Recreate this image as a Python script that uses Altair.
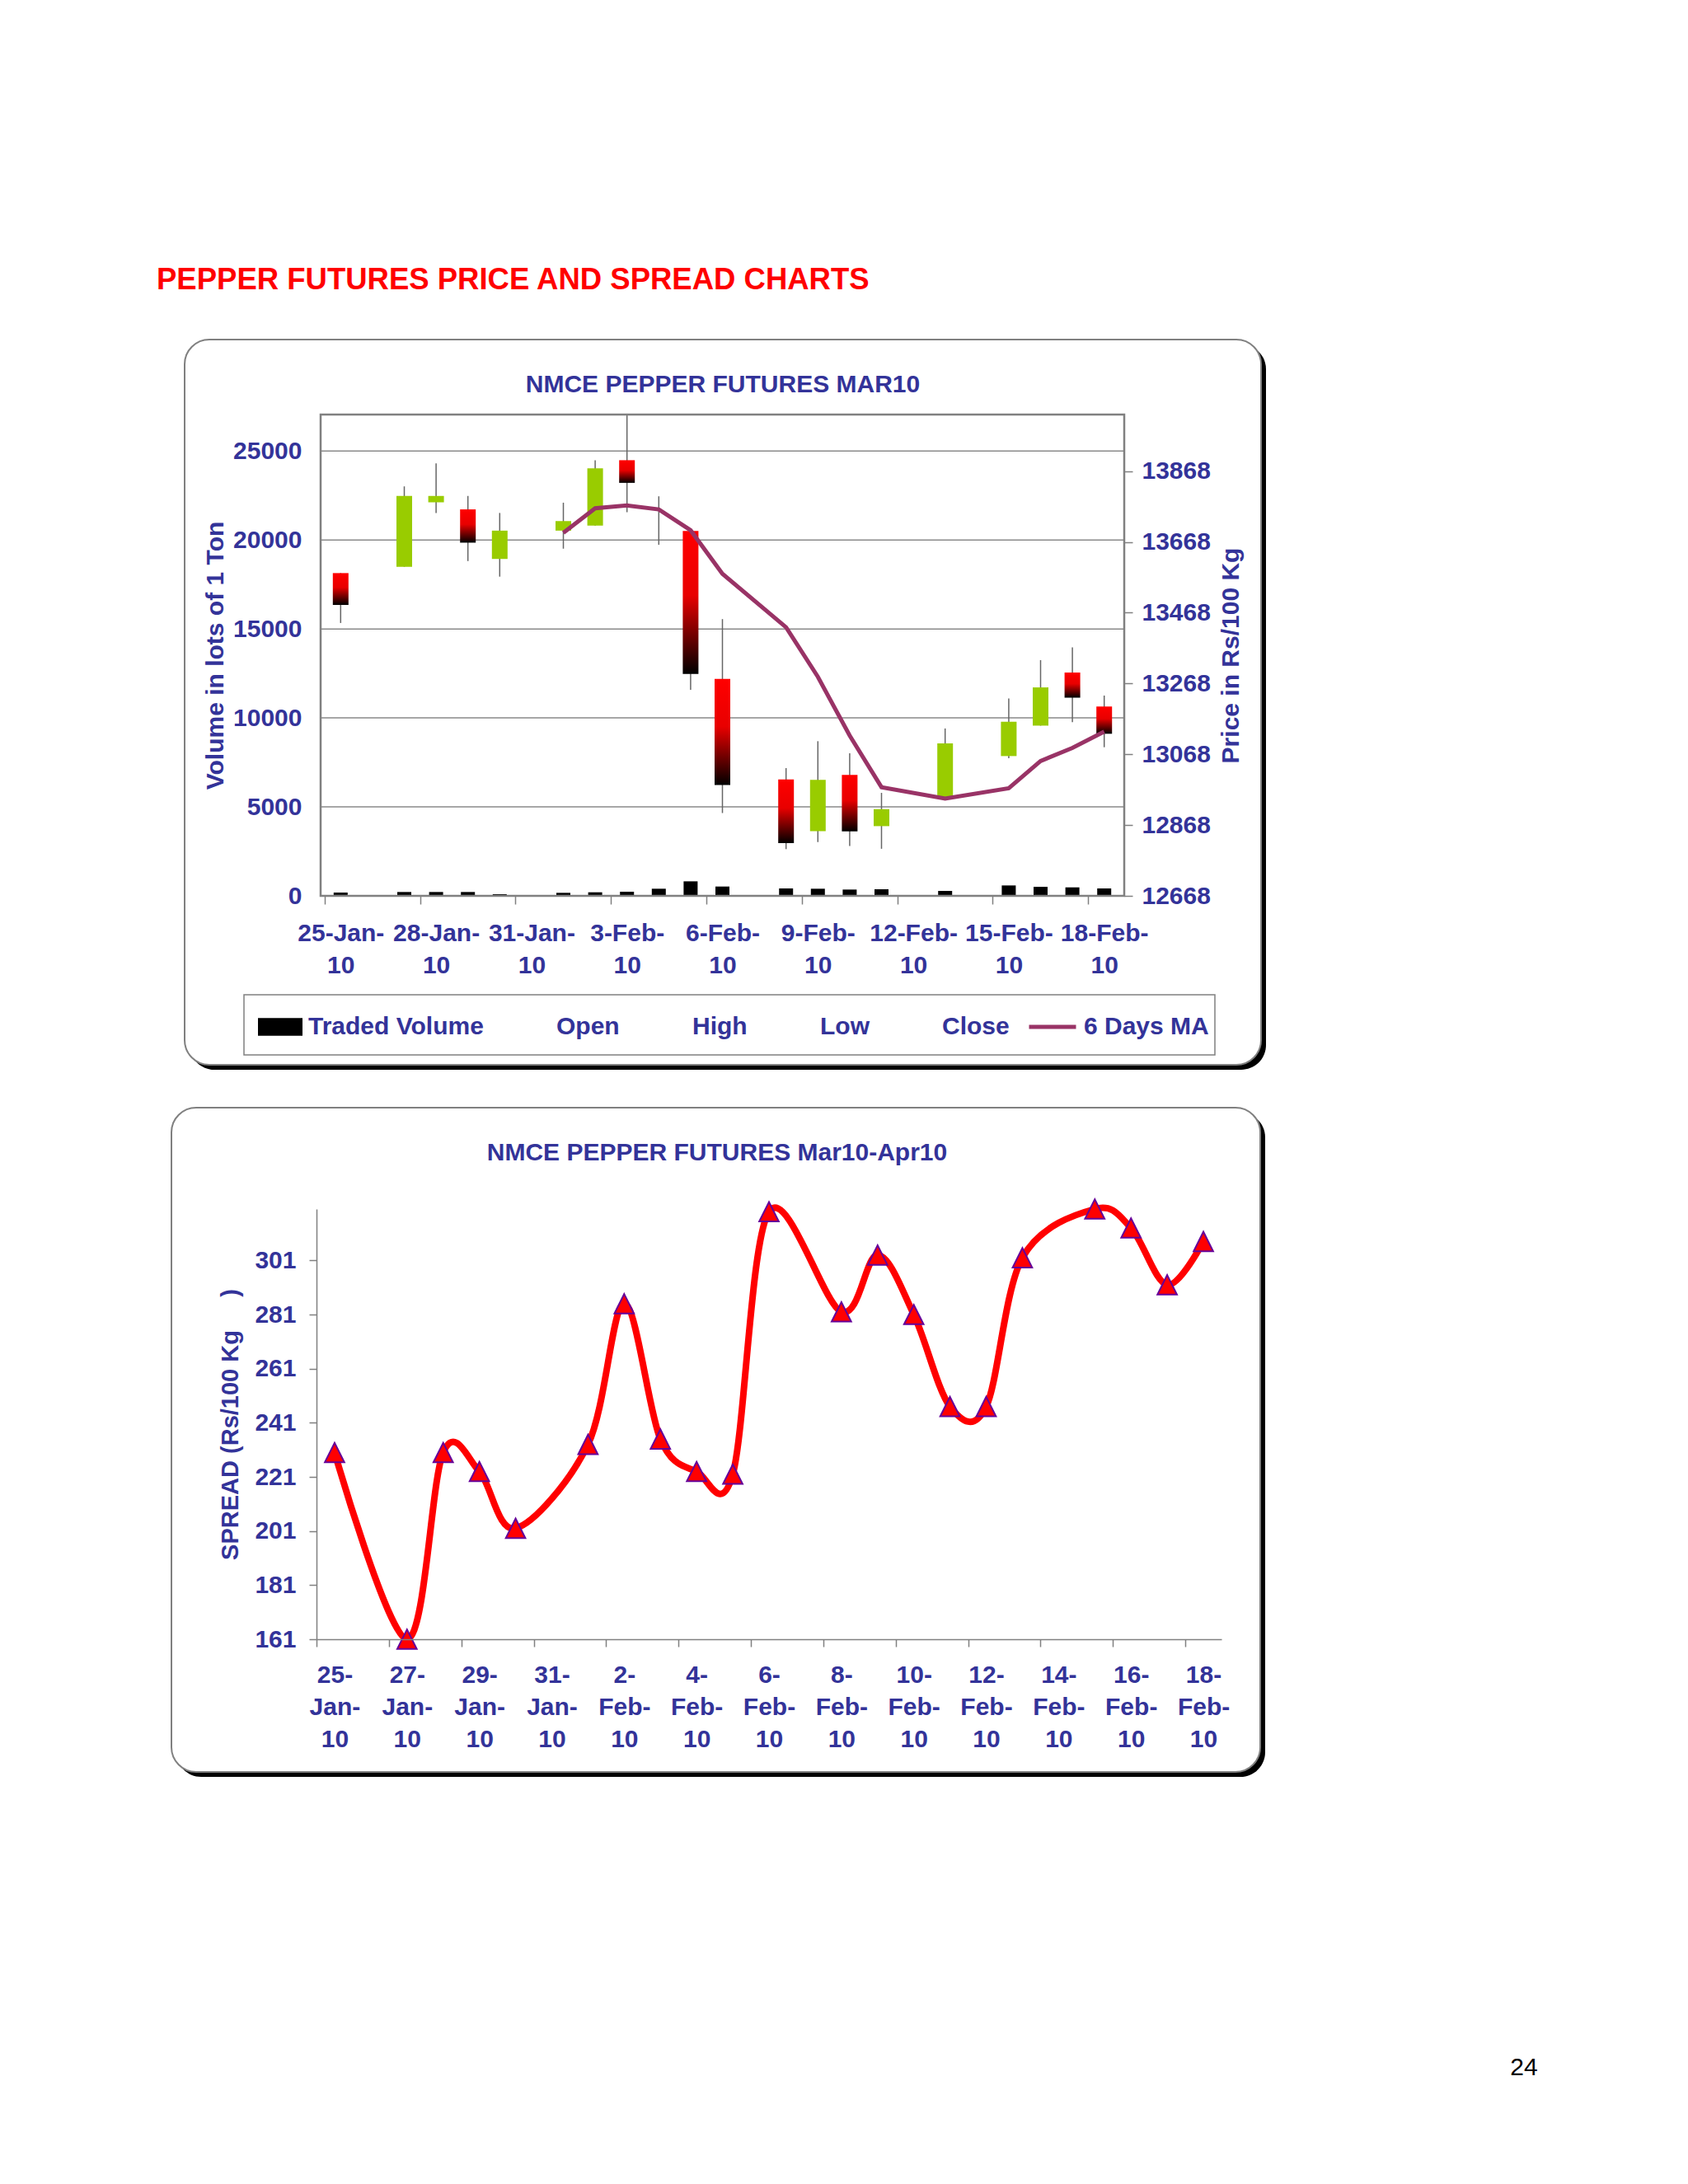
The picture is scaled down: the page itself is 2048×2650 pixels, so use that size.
import json
import re
import altair as alt
import pandas as pd

FONT = "Liberation Sans"
NAVY = "#333399"
GRAY = "#808080"

# ---------------- price chart data ----------------
trade_dates = ["25-Jan-10", "27-Jan-10", "28-Jan-10", "29-Jan-10", "30-Jan-10",
               "1-Feb-10", "2-Feb-10", "3-Feb-10", "4-Feb-10", "5-Feb-10",
               "6-Feb-10", "8-Feb-10", "9-Feb-10", "10-Feb-10", "11-Feb-10",
               "13-Feb-10", "15-Feb-10", "16-Feb-10", "17-Feb-10", "18-Feb-10"]
open_px = [13580, 13598, 13780, 13760, 13620, 13700, 13714, 13899, 13730, 13699,
           13281, 12997, 12851, 13010, 12865, 12945, 13063, 13149, 13299, 13203]
high_px = [13580, 13825, 13890, 13798, 13750, 13779, 13899, 14060, 13797, 13699,
           13450, 13029, 13105, 13071, 12959, 13141, 13226, 13334, 13370, 13234]
low_px = [13439, 13598, 13750, 13614, 13570, 13649, 13714, 13752, 13660, 13250,
          12902, 12800, 12820, 12809, 12801, 12945, 13057, 13149, 13159, 13088]
close_px = [13490, 13798, 13798, 13666, 13700, 13727, 13876, 13835, 13730, 13295,
            12981, 12817, 12996, 12850, 12913, 13099, 13160, 13257, 13228, 13126]
traded_volume = [185, 216, 216, 216, 93, 170, 200, 231, 400, 816,
                 524, 416, 400, 354, 370, 277, 585, 508, 477, 416]
ma_6days = [None, None, None, None, None, 13694, 13763, 13771, 13760, 13701,
            13578, 13427, 13287, 13121, 12975, 12943, 12972, 13049, 13086, 13132]

top_tick_labels = ["25-Jan-10", "28-Jan-10", "31-Jan-10", "3-Feb-10", "6-Feb-10",
                   "9-Feb-10", "12-Feb-10", "15-Feb-10", "18-Feb-10"]
volume_ticks = [0, 5000, 10000, 15000, 20000, 25000]
price_ticks = [12668, 12868, 13068, 13268, 13468, 13668, 13868]
volume_domain = [0, 27050]
price_domain = [12668, 14028]
legend_items = ["Traded Volume", "Open", "High", "Low", "Close"]
ma_label = "6 Days MA"

# ---------------- spread chart data ----------------
spread_dates = ["25-Jan-10", "27-Jan-10", "28-Jan-10", "29-Jan-10", "30-Jan-10",
                "1-Feb-10", "2-Feb-10", "3-Feb-10", "4-Feb-10", "5-Feb-10",
                "6-Feb-10", "8-Feb-10", "9-Feb-10", "10-Feb-10", "11-Feb-10",
                "12-Feb-10", "13-Feb-10", "15-Feb-10", "16-Feb-10", "17-Feb-10",
                "18-Feb-10"]
spread_values = [230, 161, 230, 223, 202, 233, 285, 235, 223, 222,
                 319, 282, 303, 281, 247, 247, 302, 320, 313, 292, 308]
spread_tick_labels = ["25-Jan-10", "27-Jan-10", "29-Jan-10", "31-Jan-10", "2-Feb-10",
                      "4-Feb-10", "6-Feb-10", "8-Feb-10", "10-Feb-10", "12-Feb-10",
                      "14-Feb-10", "16-Feb-10", "18-Feb-10"]
spread_ticks = [161, 181, 201, 221, 241, 261, 281, 301]
spread_domain = [161, 320]


def parse(d):
    return pd.to_datetime(d, format="%d-%b-%y")


START = parse(top_tick_labels[0])
N_DAYS = (parse(top_tick_labels[-1]) - START).days + 1


def day_index(d):
    return (parse(d) - START).days


def parts(s):
    return re.findall(r"[^-]+-?", s)


def label_expr(positions, lines):
    return f"{json.dumps(lines)}[indexof({json.dumps(positions)}, datum.value)]"


one = pd.DataFrame({"k": [0]})


def deco_rect(x, x2, y, y2, **mark):
    return alt.Chart(one).mark_rect(**mark).encode(
        x=alt.value(x), x2=alt.value(x2), y=alt.value(y), y2=alt.value(y2))


def deco_text(text, x, y, **mark):
    return alt.Chart(one).mark_text(**mark).encode(
        x=alt.value(x), y=alt.value(y), text=alt.value(text))


lab = dict(labelFont=FONT, labelFontSize=30, labelFontWeight="bold", labelColor=NAVY)
tit = dict(titleFont=FONT, titleFontSize=30, titleFontWeight="bold", titleColor=NAVY)

# ======================= TOP: price chart =======================
W1, H1 = 975, 584
cat1 = W1 / N_DAYS

price_df = pd.DataFrame({
    "idx": [day_index(d) for d in trade_dates],
    "open": open_px, "high": high_px, "low": low_px, "close": close_px,
    "volume": traded_volume, "ma": ma_6days,
    "series": "Traded Volume", "ma_series": ma_label,
})
grid_df = pd.DataFrame({"volume": volume_ticks})

pos_top = [day_index(s) for s in top_tick_labels]
lines_top = [[p[0] + p[1], p[2]] for p in map(parts, top_tick_labels)]

x_top = alt.X("idx:Q",
              scale=alt.Scale(domain=[-0.5, N_DAYS - 0.5], nice=False, zero=False),
              axis=alt.Axis(values=pos_top, labelExpr=label_expr(pos_top, lines_top),
                            title=None, grid=False, domain=False, ticks=True,
                            tickSize=10, tickColor=GRAY, tickWidth=1.5,
                            tickOffset=-cat1 / 2, labelOffset=cat1 / 2,
                            labelPadding=20, labelLineHeight=39, labelBaseline="top",
                            labelAlign="center", labelOverlap=False, labelFlush=False,
                            zindex=1, **lab))

vol_scale = alt.Scale(domain=volume_domain, nice=False, zero=True)
vol_axis = alt.Axis(values=volume_ticks, format="d", orient="left", grid=False,
                    domain=False, ticks=False, tickSize=0, labelPadding=23,
                    title="Volume in lots of 1 Ton", titlePadding=6, zindex=1,
                    **lab, **tit)
y_vol = alt.Y("volume:Q", scale=vol_scale, axis=vol_axis)

grid_rules = alt.Chart(grid_df).mark_rule(color="#8a8a8a", strokeWidth=1.5).encode(y=y_vol)

vol_bars = alt.Chart(price_df).mark_bar(size=17).encode(
    x=x_top, y=y_vol,
    fill=alt.Fill("series:N",
                  scale=alt.Scale(domain=legend_items,
                                  range=["#000000", "transparent", "transparent",
                                         "transparent", "transparent"]),
                  legend=alt.Legend(orient="none", legendX=-76, legendY=716,
                                    direction="horizontal", columns=5, columnPadding=27,
                                    title=None, padding=0, labelOffset=7, labelLimit=400,
                                    symbolType="M-1,-0.4H1V0.4H-1Z", symbolSize=2916,
                                    symbolStrokeWidth=0, symbolOpacity=1, **lab)))

price_scale = alt.Scale(domain=price_domain, nice=False, zero=False)
price_axis = alt.Axis(values=price_ticks, format="d", orient="right", grid=False,
                      domain=False, ticks=True, tickSize=10, tickColor=GRAY,
                      tickWidth=1.5, labelPadding=11, title="Price in Rs/100 Kg",
                      titleAngle=270, titleBaseline="top", titlePadding=10, zindex=1,
                      **lab, **tit)

wicks = alt.Chart(price_df).mark_rule(color="#666666", strokeWidth=1.5, clip=True).encode(
    x=x_top, y=alt.Y("low:Q", scale=price_scale, axis=price_axis), y2="high:Q")

up_bodies = alt.Chart(price_df).transform_filter("datum.close >= datum.open").mark_bar(
    size=19, color="#99CC00").encode(
    x=x_top, y=alt.Y("open:Q", scale=price_scale, axis=price_axis), y2="close:Q")

red_black = alt.LinearGradient(
    gradient="linear", x1=0, x2=0, y1=0, y2=1,
    stops=[alt.GradientStop(color="#ff0000", offset=0),
           alt.GradientStop(color="#e80000", offset=0.45),
           alt.GradientStop(color="#000000", offset=1)])
down_bodies = alt.Chart(price_df).transform_filter("datum.close < datum.open").mark_bar(
    size=19, color=red_black).encode(
    x=x_top, y=alt.Y("open:Q", scale=price_scale, axis=price_axis), y2="close:Q")

ma_line = alt.Chart(price_df).mark_line(strokeWidth=5).encode(
    x=x_top, y=alt.Y("ma:Q", scale=price_scale, axis=price_axis),
    stroke=alt.Stroke("ma_series:N",
                      scale=alt.Scale(domain=[ma_label], range=["#993366"]),
                      legend=alt.Legend(orient="none", legendX=857, legendY=712,
                                        title=None, padding=0, labelOffset=7,
                                        labelLimit=400, symbolType="stroke",
                                        symbolSize=3249, symbolStrokeWidth=5, **lab)))

top = alt.layer(
    deco_rect(-159, 1147, -85, 795, fill="#000000", cornerRadius=30),
    deco_rect(-165, 1141, -91, 789, fill="#ffffff", stroke=GRAY, strokeWidth=2,
              cornerRadius=30),
    deco_rect(-93, 1085, 704, 777, fill="transparent", stroke=GRAY, strokeWidth=1.5),
    alt.layer(grid_rules, vol_bars),
    alt.layer(wicks, up_bodies, down_bodies, ma_line),
    deco_rect(0, W1, 0, H1, fill="transparent", stroke=GRAY, strokeWidth=2.5),
    deco_text("NMCE PEPPER FUTURES MAR10", 488, -36, font=FONT, fontSize=30,
              fontWeight="bold", color=NAVY, align="center", baseline="middle"),
    deco_text("PEPPER FUTURES PRICE AND SPREAD CHARTS", -199, -163, font=FONT,
              fontSize=36.5, fontWeight="bold", color="#FF0000", align="left",
              baseline="middle"),
).resolve_scale(y="independent").properties(width=W1, height=H1)

# ======================= BOTTOM: spread chart =======================
# the spread plot sits 5px further left than the price plot
SHIFT = 5
W2, H2 = 1093, 522
cat2 = (W2 + SHIFT) / N_DAYS

spread_df = pd.DataFrame({"idx": [day_index(d) for d in spread_dates],
                          "spread": spread_values})
pos_bot = [day_index(s) for s in spread_tick_labels]
lines_bot = [parts(s) for s in spread_tick_labels]

x_bot = alt.X("idx:Q",
              scale=alt.Scale(domain=[-0.5, N_DAYS - 0.5], range=[-SHIFT, W2],
                              nice=False, zero=False),
              axis=alt.Axis(values=pos_bot, labelExpr=label_expr(pos_bot, lines_bot),
                            title=None, grid=False, domain=True, domainColor=GRAY,
                            domainWidth=1.5, ticks=True, tickSize=9, tickColor=GRAY,
                            tickWidth=1.5, tickOffset=-cat2 / 2, labelOffset=cat2 / 2,
                            labelPadding=19, labelLineHeight=39, labelBaseline="top",
                            labelAlign="center", labelOverlap=False, labelFlush=False,
                            zindex=1, **lab))
y_bot = alt.Y("spread:Q",
              scale=alt.Scale(domain=spread_domain, nice=False, zero=False),
              axis=alt.Axis(values=spread_ticks, format="d", orient="left", grid=False,
                            offset=SHIFT,
                            domain=True, domainColor=GRAY, domainWidth=1.5, ticks=True,
                            tickSize=9, tickColor=GRAY, tickWidth=1.5, labelPadding=16,
                            title="SPREAD (Rs/100 Kg\u00a0\u00a0\u00a0\u00a0\u00a0)",
                            titlePadding=14, zindex=1, **lab,
                            titleFont=FONT, titleFontSize=29, titleFontWeight="bold",
                            titleColor=NAVY))

spread_line = alt.Chart(spread_df).mark_line(
    interpolate="cardinal", color="#FF0000", strokeWidth=8).encode(x=x_bot, y=y_bot)
spread_pts = alt.Chart(spread_df).mark_point(
    shape="M0,-1L1,1L-1,1Z", size=560, filled=True, fill="#FF0000",
    stroke="#660099", strokeWidth=2, opacity=1).encode(x=x_bot, y=y_bot)

bottom = alt.layer(
    deco_rect(-175, 1146, -117, 689, fill="#000000", cornerRadius=30),
    deco_rect(-181, 1140, -123, 683, fill="#ffffff", stroke=GRAY, strokeWidth=2,
              cornerRadius=30),
    deco_text("NMCE PEPPER FUTURES Mar10-Apr10", 481, -68, font=FONT, fontSize=30,
              fontWeight="bold", color=NAVY, align="center", baseline="middle"),
    spread_line,
    spread_pts,
    deco_text("24", 1460, 1042, font=FONT, fontSize=30, color="#000000",
              align="center", baseline="middle"),
).properties(width=W2, height=H2)

chart = alt.vconcat(top, bottom, spacing=45).properties(
    background="white",
    padding={"left": 182, "top": 314, "right": 20, "bottom": 20},
).configure_view(stroke=None)

chart.save("out.html", embed_options={"renderer": "svg", "actions": False})
